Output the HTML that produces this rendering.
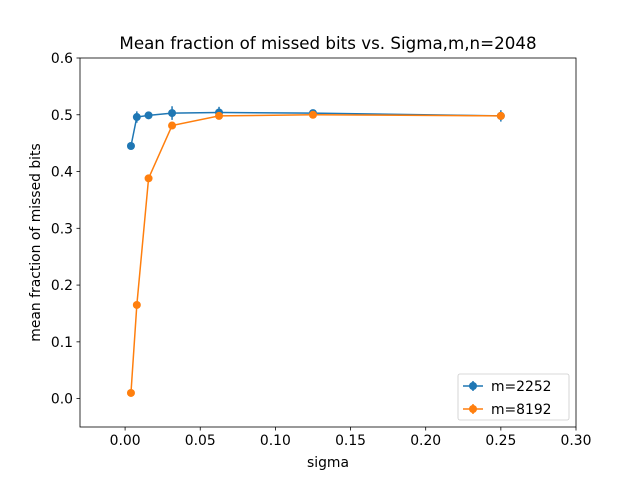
<!DOCTYPE html>
<html><head><meta charset="utf-8"><style>
body{margin:0;background:#fff}
svg{font-family:"DejaVu Sans","Liberation Sans",sans-serif}
</style></head><body>
<svg id="chart" width="640" height="480"></svg>
<script>
const sigmas=[0.00390625,0.0078125,0.015625,0.03125,0.0625,0.125,0.25];
const blueVals=[0.445,0.496,0.499,0.503,0.504,0.503,0.498];
const blueErr=[0.006,0.01,0.006,0.012,0.01,0.006,0.01];
const orangeVals=[0.01,0.165,0.388,0.481,0.498,0.500,0.498];
const orangeErr=[0.004,0.006,0.006,0.006,0.006,0.006,0.006];
const xTicks=[0.00,0.05,0.10,0.15,0.20,0.25,0.30];
const yTicks=[0.0,0.1,0.2,0.3,0.4,0.5,0.6];
const L=80,R=576,T=58,B=427,xmin=-0.03,xmax=0.30,ymin=-0.05,ymax=0.6;
const sx=v=>L+(v-xmin)/(xmax-xmin)*(R-L);
const sy=v=>B-(v-ymin)/(ymax-ymin)*(B-T);
const svg=document.getElementById('chart');
const NS='http://www.w3.org/2000/svg';
function mk(tag,attrs,parent){const e=document.createElementNS(NS,tag);for(const k in attrs)e.setAttribute(k,attrs[k]);(parent||svg).appendChild(e);return e;}
function txt(s,attrs){const e=mk('text',attrs);e.textContent=s;return e;}
xTicks.forEach(v=>{
  const l=mk('line',{x1:sx(v),x2:sx(v),y1:B,y2:B+3.5,stroke:'#000','stroke-width':0.8});
  
  
  const t=txt(v.toFixed(2),{x:sx(v),y:B+18,'font-size':13.9,'text-anchor':'middle'});
  
  
});
yTicks.forEach(v=>{
  const l=mk('line',{x1:L-3.5,x2:L,y1:sy(v),y2:sy(v),stroke:'#000','stroke-width':0.8});
  
  
  const t=txt(v.toFixed(1),{x:L-7,y:sy(v)+5,'font-size':13.9,'text-anchor':'end'});
  
  
});
function series(vals,errs,color,name){
  const g=mk('g',{});
  
  
  mk('polyline',{points:sigmas.map((s,i)=>sx(s)+','+sy(vals[i])).join(' '),fill:'none',stroke:color,'stroke-width':1.5},g);
  sigmas.forEach((s,i)=>{
    const e=mk('line',{x1:sx(s),x2:sx(s),y1:sy(vals[i]-errs[i]),y2:sy(vals[i]+errs[i]),stroke:color,'stroke-width':1.5},g);
    
    
    const c=mk('circle',{cx:sx(s),cy:sy(vals[i]),r:4,fill:color},g);
    
    
  });
}
series(blueVals,blueErr,'#1f77b4','series-m2252');
series(orangeVals,orangeErr,'#ff7f0e','series-m8192');
const fr=mk('rect',{x:L,y:T,width:R-L,height:B-T,fill:'none',stroke:'#000','stroke-width':0.8});


const tt=txt('Mean fraction of missed bits vs. Sigma,m,n=2048',{x:(L+R)/2,y:49,'font-size':16.7,'text-anchor':'middle'});


const xt=txt('sigma',{x:(L+R)/2,y:467,'font-size':13.9,'text-anchor':'middle'});


const yt=txt('mean fraction of missed bits',{x:0,y:0,'font-size':13.9,'text-anchor':'middle',transform:'translate(40,'+((T+B)/2)+') rotate(-90)'});


const lg=mk('g',{});


mk('rect',{x:458,y:374,width:111,height:46,rx:2,fill:'#fff',stroke:'#ccc','stroke-width':0.8},lg);
[['m=2252','#1f77b4',386],['m=8192','#ff7f0e',409]].forEach(([lab,c,y])=>{
  mk('line',{x1:463,x2:483,y1:y,y2:y,stroke:c,'stroke-width':1.5},lg);
  mk('line',{x1:473,x2:473,y1:y-5,y2:y+5,stroke:c,'stroke-width':1.5},lg);
  mk('circle',{cx:473,cy:y,r:4,fill:c},lg);
  const t=mk('text',{x:491,y:y+5,'font-size':13.9},lg);t.textContent=lab;
  
  
});
</script>
</body></html>
